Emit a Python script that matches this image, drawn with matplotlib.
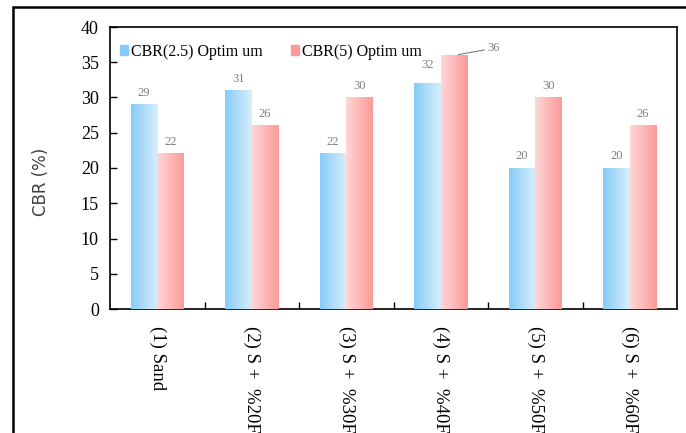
import numpy as np
import matplotlib
matplotlib.use("Agg")
import matplotlib.pyplot as plt
from matplotlib.colors import LinearSegmentedColormap
from matplotlib.patches import Rectangle

categories = ["(1) Sand", "(2) S +  %20F", "(3) S +  %30F",
              "(4) S +  %40F", "(5) S +  %50F", "(6) S +  %60F"]
cbr_25 = [29, 31, 22, 32, 20, 20]
cbr_5 = [22, 26, 30, 36, 30, 26]
series_names = ["CBR(2.5) Optim um", "CBR(5) Optim um"]

serif = ["Liberation Serif", "DejaVu Serif"]

fig = plt.figure(figsize=(6.86, 4.33), dpi=100)
ax = fig.add_axes([110 / 686, 1 - 309 / 433, 567 / 686, 282 / 433])

# outer frame like the original screenshot
fig.patches.append(Rectangle((13 / 686, -0.1), 1.2, 1 - 7 / 433 + 0.1,
                             transform=fig.transFigure, fill=False,
                             edgecolor="black", linewidth=1.8))

x = np.arange(len(categories))
w = 0.28
blue_cmap = LinearSegmentedColormap.from_list("b", ["#86ccf8", "#d9eefb"])
red_cmap = LinearSegmentedColormap.from_list("r", ["#ffd6d6", "#fb9a9a"])

b1 = ax.bar(x - w / 2, cbr_25, w, color="#a9dbf9", label=series_names[0], zorder=2)
b2 = ax.bar(x + w / 2, cbr_5, w, color="#fdb6b6", label=series_names[1], zorder=2)

grad = np.linspace(0, 1, 64).reshape(1, -1)
for bars, cmap in [(b1, blue_cmap), (b2, red_cmap)]:
    for p in bars:
        x0, y0 = p.get_x(), p.get_y()
        ax.imshow(grad, extent=[x0, x0 + p.get_width(), y0, y0 + p.get_height()],
                  aspect="auto", cmap=cmap, zorder=3, interpolation="bilinear")

ax.set_xlim(-0.5, len(categories) - 0.5)
ax.set_ylim(0, 40)
ax.set_yticks(range(0, 41, 5))

# value labels
for bars, vals in [(b1, cbr_25), (b2, cbr_5)]:
    for p, v in zip(bars, vals):
        cx = p.get_x() + p.get_width() / 2
        if v == 36:
            ax.annotate(str(v), xy=(p.get_x() + p.get_width() * 0.55, v),
                        xytext=(23, 5), textcoords="offset points",
                        ha="left", va="center", fontsize=9, color="#7f7f7f",
                        family=serif,
                        arrowprops=dict(arrowstyle="-", color="#7f7f7f", lw=0.8,
                                        shrinkA=0, shrinkB=2))
            continue
        off = 9 if v == 32 else 4
        ax.annotate(str(v), xy=(cx, v), xytext=(0, off), textcoords="offset points",
                    ha="center", va="bottom", fontsize=9, color="#7f7f7f",
                    family=serif)

ax.set_xticks(x)
ax.set_xticklabels(categories, rotation=270, family=serif, fontsize=13.5,
                   va="top", ha="center")
ax.set_xticks(np.arange(0.5, len(categories) - 0.5, 1), minor=True)
ax.tick_params(axis="x", which="major", length=0, pad=12)
ax.tick_params(axis="x", which="minor", direction="in", length=5, width=1)
ax.tick_params(axis="y", direction="in", length=5, width=1, pad=8)
for lab in ax.get_yticklabels():
    lab.set_family(serif)
    lab.set_fontsize(13)

for s in ax.spines.values():
    s.set_linewidth(1.2)
    s.set_color("black")

ax.set_ylabel("CBR (%)", fontsize=12, color="#404040", family="DejaVu Sans")
ax.yaxis.set_label_coords(-0.105, 0.45)

leg = ax.legend(loc="upper left", bbox_to_anchor=(0.0, 0.975), ncol=2, frameon=False,
                prop={"family": serif, "size": 11.5}, handlelength=0.5,
                handleheight=0.5, handletextpad=0.2, columnspacing=1.8,
                borderaxespad=0.2)
leg.legend_handles[0].set_color("#86ccf8")
leg.legend_handles[1].set_color("#fb9a9a")

fig.savefig("out.png", dpi=100)
